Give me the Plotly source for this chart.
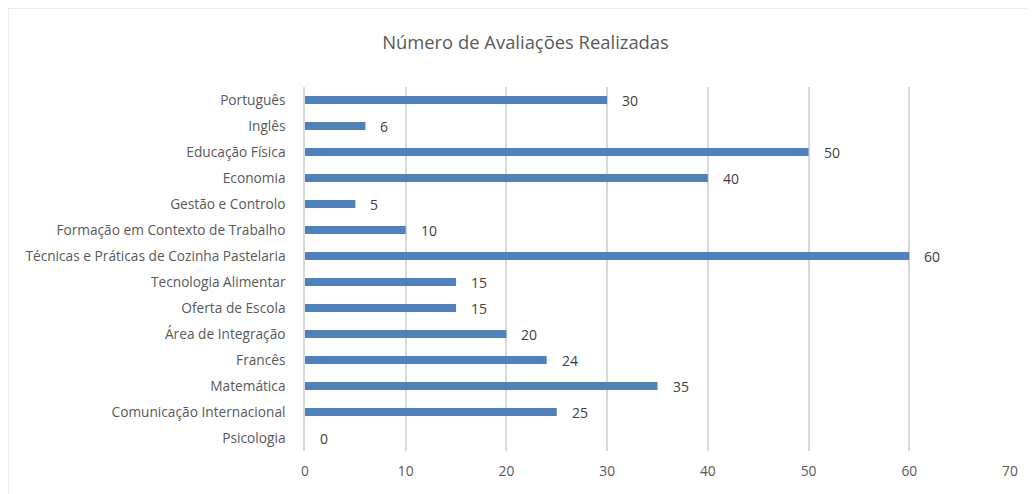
import plotly.graph_objects as go

categories = [
    "Português", "Inglês", "Educação Física", "Economia", "Gestão e Controlo",
    "Formação em Contexto de Trabalho", "Técnicas e Práticas de Cozinha Pastelaria",
    "Tecnologia Alimentar", "Oferta de Escola", "Área de Integração", "Francês",
    "Matemática", "Comunicação Internacional", "Psicologia",
]
values = [30, 6, 50, 40, 5, 10, 60, 15, 15, 20, 24, 35, 25, 0]
x_ticks = [0, 10, 20, 30, 40, 50, 60, 70]

font_family = "Open Sans"
grey = "#595959"

fig = go.Figure(go.Bar(
    y=categories, x=values, orientation="h",
    marker=dict(color="#4F81BD", line=dict(width=0)),
    hoverinfo="x+y",
))

for c, v in zip(categories, values):
    fig.add_annotation(x=v, y=c, text=str(v), showarrow=False, xanchor="left",
                       xshift=13, font=dict(family=font_family, size=14, color="#404040"))

fig.update_layout(
    width=1035, height=494,
    margin=dict(l=297, r=33, t=79, b=51),
    paper_bgcolor="white", plot_bgcolor="white",
    bargap=0.69,
    showlegend=False,
    title=dict(text="Número de Avaliações Realizadas", x=0.5, xanchor="center",
               y=0.931, yanchor="middle",
               font=dict(family=font_family, size=18.4, color=grey)),
    xaxis=dict(range=[0, 70], tickvals=x_ticks, showgrid=True, gridcolor="#D9D9D9",
               gridwidth=1.5, zeroline=False, showline=False,
               tickfont=dict(family=font_family, size=13.8, color=grey),
               ticklabelstandoff=10),
    yaxis=dict(autorange="reversed", showgrid=False, showline=True, linecolor="#D9D9D9",
               linewidth=1.5, tickfont=dict(family=font_family, size=13.7, color=grey),
               ticklabelstandoff=15, categoryorder="array", categoryarray=categories),
)

fig.add_shape(type="rect", xref="paper", yref="paper",
              x0=-0.4213, x1=1.06, y0=-0.3, y1=1.217,
              line=dict(color="#D9D9D9", width=1), layer="below")

fig.write_html("out.html")
